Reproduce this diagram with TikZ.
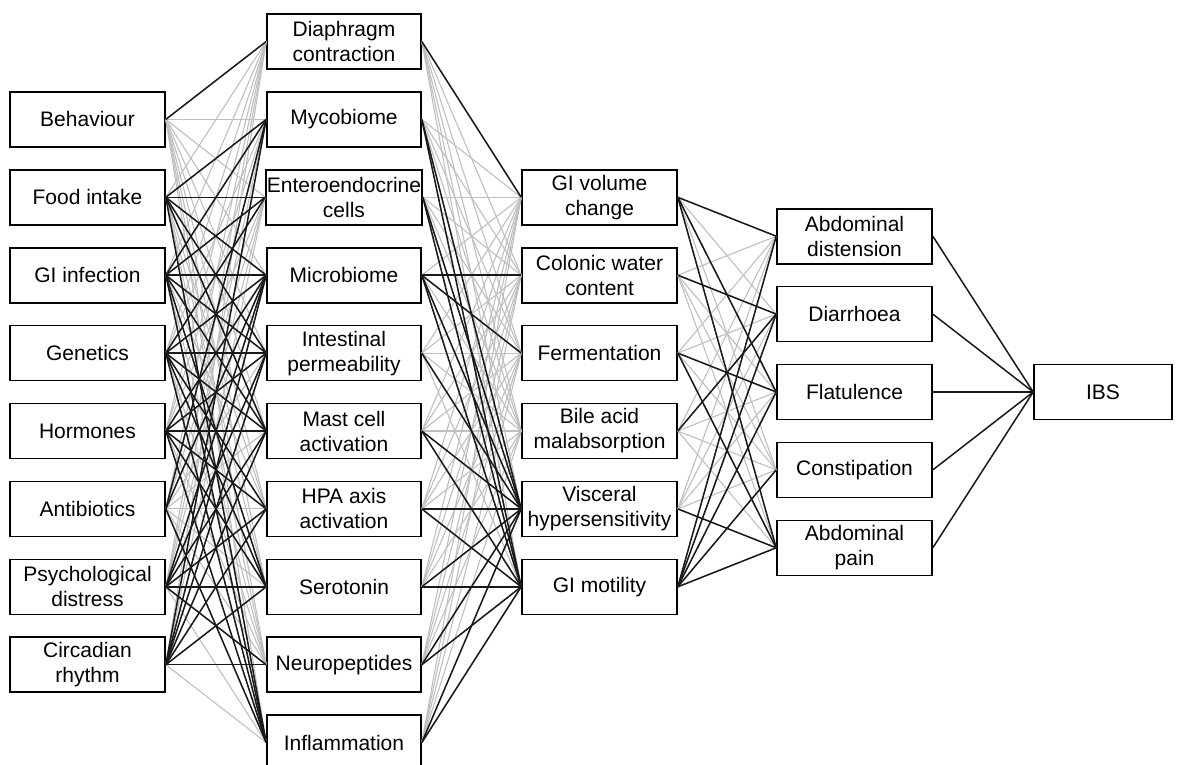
\documentclass[tikz,border=0pt]{standalone}
\usepackage{fontspec}
\setmainfont{Liberation Sans}
\usetikzlibrary{positioning}

\begin{document}
\begin{tikzpicture}[
  x=1pt, y=-1pt,
  box/.style={draw, line width=1.6pt, fill=white, align=center,
    font=\fontsize{21}{25}\selectfont, inner sep=1pt,
    minimum width=155pt, minimum height=55pt},
  weak/.style={draw=black!25, line width=1.1pt},
  strong/.style={draw=black!90, line width=1.5pt}
]
\useasboundingbox (0,0) rectangle (1177,765);
% causes
\node[box] (beh)    at (87.5,119.4) {Behaviour};
\node[box] (food)   at (87.5,197.3) {Food intake};
\node[box] (infect) at (87.5,275.2) {GI infection};
\node[box] (genet)  at (87.5,353.1) {Genetics};
\node[box] (hormon) at (87.5,431.0) {Hormones};
\node[box] (antib)  at (87.5,508.9) {Antibiotics};
\node[box] (psych)  at (87.5,586.8) {Psychological\\distress};
\node[box] (circ)   at (87.5,664.7) {Circadian\\rhythm};
% mechanisms
\node[box, minimum width=154pt] (diaph)  at (344,41.5)  {Diaphragm\\contraction};
\node[box, minimum width=154pt] (myco)   at (344,119.4) {Mycobiome};
\node[box, minimum width=154pt] (entero) at (344,197.3) {Enteroendocrine\\cells};
\node[box, minimum width=154pt] (microb) at (344,275.2) {Microbiome};
\node[box, minimum width=154pt] (perm)   at (344,353.1) {Intestinal\\permeability};
\node[box, minimum width=154pt] (mast)   at (344,431.0) {Mast cell\\activation};
\node[box, minimum width=154pt] (hpa)    at (344,508.9) {HPA axis\\activation};
\node[box, minimum width=154pt] (sero)   at (344,586.8) {Serotonin};
\node[box, minimum width=154pt] (neuro)  at (344,664.7) {Neuropeptides};
\node[box, minimum width=154pt] (inflam) at (344,742.6) {Inflammation};
% physiology
\node[box] (volume)  at (599.5,197.3) {GI volume\\change};
\node[box] (water)   at (599.5,275.2) {Colonic water\\content};
\node[box] (ferment) at (599.5,353.1) {Fermentation};
\node[box] (bile)    at (599.5,431.0) {Bile acid\\malabsorption};
\node[box] (visc)    at (599.5,508.9) {Visceral\\hypersensitivity};
\node[box] (motil)   at (599.5,586.8) {GI motility};
% symptoms
\node[box] (disten)  at (854.5,236.2) {Abdominal\\distension};
\node[box] (diarr)   at (854.5,314.1) {Diarrhoea};
\node[box] (flatul)  at (854.5,392.0) {Flatulence};
\node[box] (constip) at (854.5,469.9) {Constipation};
\node[box] (pain)    at (854.5,547.8) {Abdominal\\pain};
\node[box, minimum width=138pt] (ibs) at (1103,392.0) {IBS};

\begin{scope}[on background layer/.try]
% every possible link, light
\foreach \a in {beh,food,infect,genet,hormon,antib,psych,circ}
  \foreach \b in {diaph,myco,entero,microb,perm,mast,hpa,sero,neuro,inflam}
    \draw[weak] (\a.east) -- (\b.west);
\foreach \a in {diaph,myco,entero,microb,perm,mast,hpa,sero,neuro,inflam}
  \foreach \b in {volume,water,ferment,bile,visc,motil}
    \draw[weak] (\a.east) -- (\b.west);
\foreach \a in {volume,water,ferment,bile,visc,motil}
  \foreach \b in {disten,diarr,flatul,constip,pain}
    \draw[weak] (\a.east) -- (\b.west);
% supported links, dark
\foreach \a/\b in {beh/diaph,
    food/myco, food/entero, food/microb, food/perm, food/mast, food/inflam,
    infect/myco, infect/entero, infect/microb, infect/perm, infect/mast,
    infect/sero, infect/inflam,
    genet/entero, genet/microb, genet/perm, genet/mast, genet/hpa,
    genet/sero, genet/inflam,
    hormon/microb, hormon/perm, hormon/mast, hormon/hpa, hormon/sero,
    hormon/inflam,
    antib/myco, antib/microb, antib/inflam,
    psych/microb, psych/perm, psych/mast, psych/hpa,
    psych/sero, psych/neuro,
    circ/myco, circ/microb, circ/perm, circ/mast, circ/hpa, circ/sero,
    circ/neuro}
  \draw[strong] (\a.east) -- (\b.west);
\foreach \a/\b in {diaph/volume,
    myco/visc, myco/motil, entero/visc, entero/motil,
    microb/water, microb/ferment, microb/visc, microb/motil,
    perm/visc, mast/visc, mast/motil, hpa/visc, hpa/motil,
    sero/visc, sero/motil, neuro/visc, neuro/motil,
    inflam/visc, inflam/motil}
  \draw[strong] (\a.east) -- (\b.west);
\foreach \a/\b in {volume/disten, volume/flatul, volume/pain,
    water/diarr, ferment/flatul, ferment/pain, bile/diarr, visc/pain,
    motil/disten, motil/diarr, motil/flatul, motil/constip, motil/pain}
  \draw[strong] (\a.east) -- (\b.west);
\foreach \a in {disten,diarr,flatul,constip,pain}
  \draw[strong] (\a.east) -- (ibs.west);
\end{scope}
\end{tikzpicture}
\end{document}
